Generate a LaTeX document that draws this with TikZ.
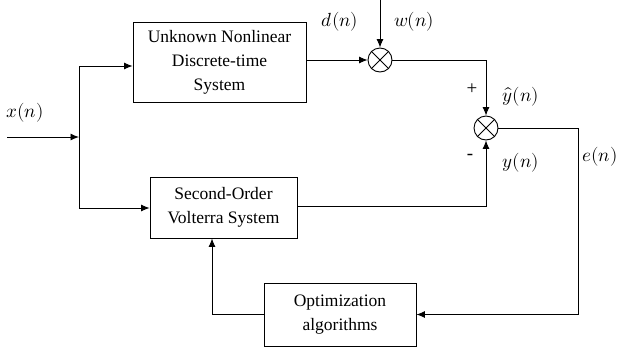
\documentclass[tikz,border=0pt]{standalone}
\usepackage{fontspec}
\setmainfont{Liberation Serif}
\usepackage{unicode-math}
\usetikzlibrary{arrows.meta,calc}
\begin{document}
\begin{tikzpicture}[x=1pt,y=-1pt,
  line width=0.9pt,
  arr/.style={-{Latex[length=8.5pt,width=7pt]}},
  blk/.style={draw,minimum width=#1,inner sep=0pt,align=center,font=\fontsize{17.5}{24}\selectfont},
  lbl/.style={font=\fontsize{19}{22}\selectfont,inner sep=0pt},
  summ/.style={draw,circle,minimum size=24pt,inner sep=0pt}]
\useasboundingbox (0,0) rectangle (618,351);
% blocks
\node[blk=173pt,minimum height=80pt] (unk) at (219.5,62) {Unknown Nonlinear\\Discrete-time\\System};
\node[blk=147pt,minimum height=61pt] (vol) at (223.5,207.5) {Second-Order\\Volterra System};
\node[blk=152pt,minimum height=63pt] (opt) at (340,314.5) {Optimization\\algorithms};
% summing junctions
\node[summ] (s1) at (380,60) {};
\node[summ] (s2) at (486,128) {};
\foreach \s in {s1,s2}{
  \draw (\s.45) -- (\s.225);
  \draw (\s.135) -- (\s.315);
}
% coordinates
\coordinate (in) at (7,137);
\coordinate (jn) at (79,137);
\coordinate (wtop) at (380,0);
\coordinate (rc) at (578,128);
% input
\draw[arr] (in) -- (jn);
\draw[arr] (jn) |- (unk.west |- 0,66);
\draw[arr] (jn) |- (vol.west |- 0,208);
% top path
\draw[arr] (unk.east |- s1) -- (s1.west);
\draw[arr] (wtop) -- (s1.north);
\draw[arr] (s1.east) -| (s2.north);
% volterra to s2
\draw[arr] (vol.east |- 0,206) -| (s2.south);
% error path
\draw[arr] (s2.east) -| (rc) |- (opt.east);
% optimization feedback
\draw[arr] (opt.west) -| (vol.south -| 212,0);
% labels
\node[lbl] (lx) at (25,113) {$x(n)$};
\node[lbl] (ld) at (340,22) {$d(n)$};
\node[lbl] (lw) at (414,22) {$w(n)$};
\node[lbl] (lp) at (472,89) {+};
\node[lbl] (lyh) at (521,97) {$\hat{y}(n)$};
\node[lbl] (lm) at (470,157) {-};
\node[lbl] (ly) at (521,163) {$y(n)$};
\node[lbl] (le) at (600,157) {$e(n)$};
\end{tikzpicture}
\end{document}
